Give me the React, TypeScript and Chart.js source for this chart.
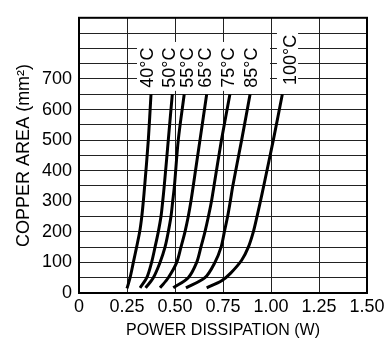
import React, { useEffect, useRef } from "react";
import { Chart, registerables } from "chart.js";

Chart.register(...registerables);

// Copper area (mm²) sampled along each curve
const areas40 = [15, 50, 100, 150, 200, 250, 300, 350, 500, 650];
const power40 = [0.25, 0.266, 0.283, 0.3, 0.316, 0.327, 0.335, 0.342, 0.361, 0.375];

const areas50 = [17, 50, 100, 150, 200, 250, 300, 350, 500, 650];
const power50 = [0.318, 0.353, 0.378, 0.396, 0.413, 0.427, 0.436, 0.444, 0.465, 0.486];

const areas55 = [17, 50, 100, 150, 200, 250, 300, 350, 500, 650];
const power55 = [0.347, 0.387, 0.422, 0.448, 0.465, 0.479, 0.488, 0.497, 0.517, 0.548];

const areas65 = [17, 50, 100, 150, 200, 250, 300, 350, 500, 650];
const power65 = [0.422, 0.465, 0.509, 0.531, 0.552, 0.569, 0.583, 0.595, 0.63, 0.665];

const areas75 = [17, 50, 100, 150, 200, 250, 300, 350, 500, 650];
const power75 = [0.491, 0.569, 0.613, 0.635, 0.656, 0.674, 0.69, 0.703, 0.742, 0.786];

const areas85 = [17, 50, 100, 150, 200, 250, 300, 350, 500, 650];
const power85 = [0.557, 0.656, 0.708, 0.74, 0.757, 0.774, 0.788, 0.801, 0.847, 0.891];

const areas100 = [17, 40, 65, 107, 150, 200, 250, 300, 350, 500, 650];
const power100 = [0.665, 0.743, 0.79, 0.847, 0.882, 0.908, 0.927, 0.945, 0.962, 1.012, 1.059];

const curveNames = ["40°C", "50°C", "55°C", "65°C", "75°C", "85°C", "100°C"];
const curvePowers = [power40, power50, power55, power65, power75, power85, power100];
const curveAreas = [areas40, areas50, areas55, areas65, areas75, areas85, areas100];

// Curve label anchors (data units): x centre, y where the text starts
const labelX = [0.353, 0.47, 0.561, 0.656, 0.778, 0.894, 1.099];
const labelY = [671, 671, 671, 671, 671, 671, 680];
// White boxes behind the labels (data units)
const boxX0 = [0.302, 1.031];
const boxX1 = [0.995, 1.141];
const boxY0 = [661, 674];
const boxY1 = [821, 852];

const xTicks = [0, 0.25, 0.5, 0.75, 1.0, 1.25, 1.5];
const yTickLabels = [0, 100, 200, 300, 400, 500, 600, 700];

const FONT = "'Liberation Sans', Arial, Helvetica, sans-serif";

const labelPlugin = {
  id: "curveLabels",
  afterDraw(chart: any) {
    const { ctx, chartArea, scales } = chart;
    const xs = scales.x;
    const ys = scales.y;
    ctx.save();
    ctx.fillStyle = "#fff";
    for (let i = 0; i < boxX0.length; i++) {
      const l = xs.getPixelForValue(boxX0[i]);
      const r = xs.getPixelForValue(boxX1[i]);
      const b = ys.getPixelForValue(boxY0[i]);
      const t = ys.getPixelForValue(boxY1[i]);
      ctx.fillRect(l, t, r - l, b - t);
    }
    ctx.fillStyle = "#000";
    ctx.font = `18px ${FONT}`;
    ctx.textAlign = "left";
    ctx.textBaseline = "middle";
    for (let i = 0; i < curveNames.length; i++) {
      const px = xs.getPixelForValue(labelX[i]);
      const py = ys.getPixelForValue(labelY[i]);
      ctx.save();
      ctx.translate(px, py);
      ctx.rotate(-Math.PI / 2);
      ctx.fillText(curveNames[i], 0, 1);
      ctx.restore();
    }
    // frame
    ctx.strokeStyle = "#000";
    ctx.lineWidth = 2;
    ctx.strokeRect(
      chartArea.left,
      chartArea.top,
      chartArea.right - chartArea.left,
      chartArea.bottom - chartArea.top
    );
    ctx.restore();
  },
};

export default function App() {
  const ref = useRef<HTMLCanvasElement>(null);

  useEffect(() => {
    if (!ref.current) return;
    const datasets = curveNames.map((name, i) => ({
      label: name,
      data: curvePowers[i].map((p, j) => ({ x: p, y: curveAreas[i][j] })),
      showLine: true,
      borderColor: "#000",
      backgroundColor: "#000",
      borderWidth: 3,
      pointRadius: 0,
      tension: 0.3,
      fill: false,
    }));
    const chart = new Chart(ref.current, {
      type: "scatter",
      data: { datasets },
      options: {
        animation: false,
        responsive: false,
        maintainAspectRatio: false,
        layout: { padding: { top: 6, right: 23, left: 0, bottom: 0 } },
        plugins: {
          legend: { display: false },
          tooltip: { enabled: false },
        },
        scales: {
          x: {
            type: "linear",
            min: 0,
            max: 1.5,
            afterBuildTicks: (s: any) => {
              s.ticks = xTicks.map((v) => ({ value: v }));
            },
            afterFit: (s: any) => {
              s.height = 48;
            },
            ticks: {
              color: "#000",
              font: { family: FONT, size: 18 },
              padding: 3,
              maxRotation: 0,
              autoSkip: false,
              callback: (v: any) => (Number(v) === 0 ? "0" : Number(v).toFixed(2)),
            },
            grid: { color: "#222", lineWidth: 1, drawTicks: false },
            border: { display: true, color: "#000", width: 2 },
            title: {
              display: true,
              text: "POWER DISSIPATION (W)",
              color: "#000",
              font: { family: FONT, size: 16 },
              padding: { top: 0, bottom: 1 },
            },
          },
          y: {
            type: "linear",
            min: 0,
            max: 900,
            afterFit: (s: any) => {
              s.width = 79;
            },
            ticks: {
              stepSize: 50,
              color: "#000",
              font: { family: FONT, size: 18 },
              padding: 7,
              autoSkip: false,
              callback: (v: any) =>
                yTickLabels.indexOf(Number(v)) >= 0 ? String(v) : "",
            },
            grid: { color: "#222", lineWidth: 1, drawTicks: false },
            border: { display: true, color: "#000", width: 2 },
            title: {
              display: true,
              text: "COPPER AREA (mm²)",
              color: "#000",
              font: { family: FONT, size: 18 },
              padding: { top: 13, bottom: 0 },
            },
          },
        },
      },
      plugins: [labelPlugin],
    });
    return () => chart.destroy();
  }, []);

  return (
    <div style={{ position: "fixed", left: 0, top: 0, width: 390, height: 341, background: "#fff" }}>
      <canvas ref={ref} width={390} height={341} style={{ width: 390, height: 341 }} />
    </div>
  );
}
